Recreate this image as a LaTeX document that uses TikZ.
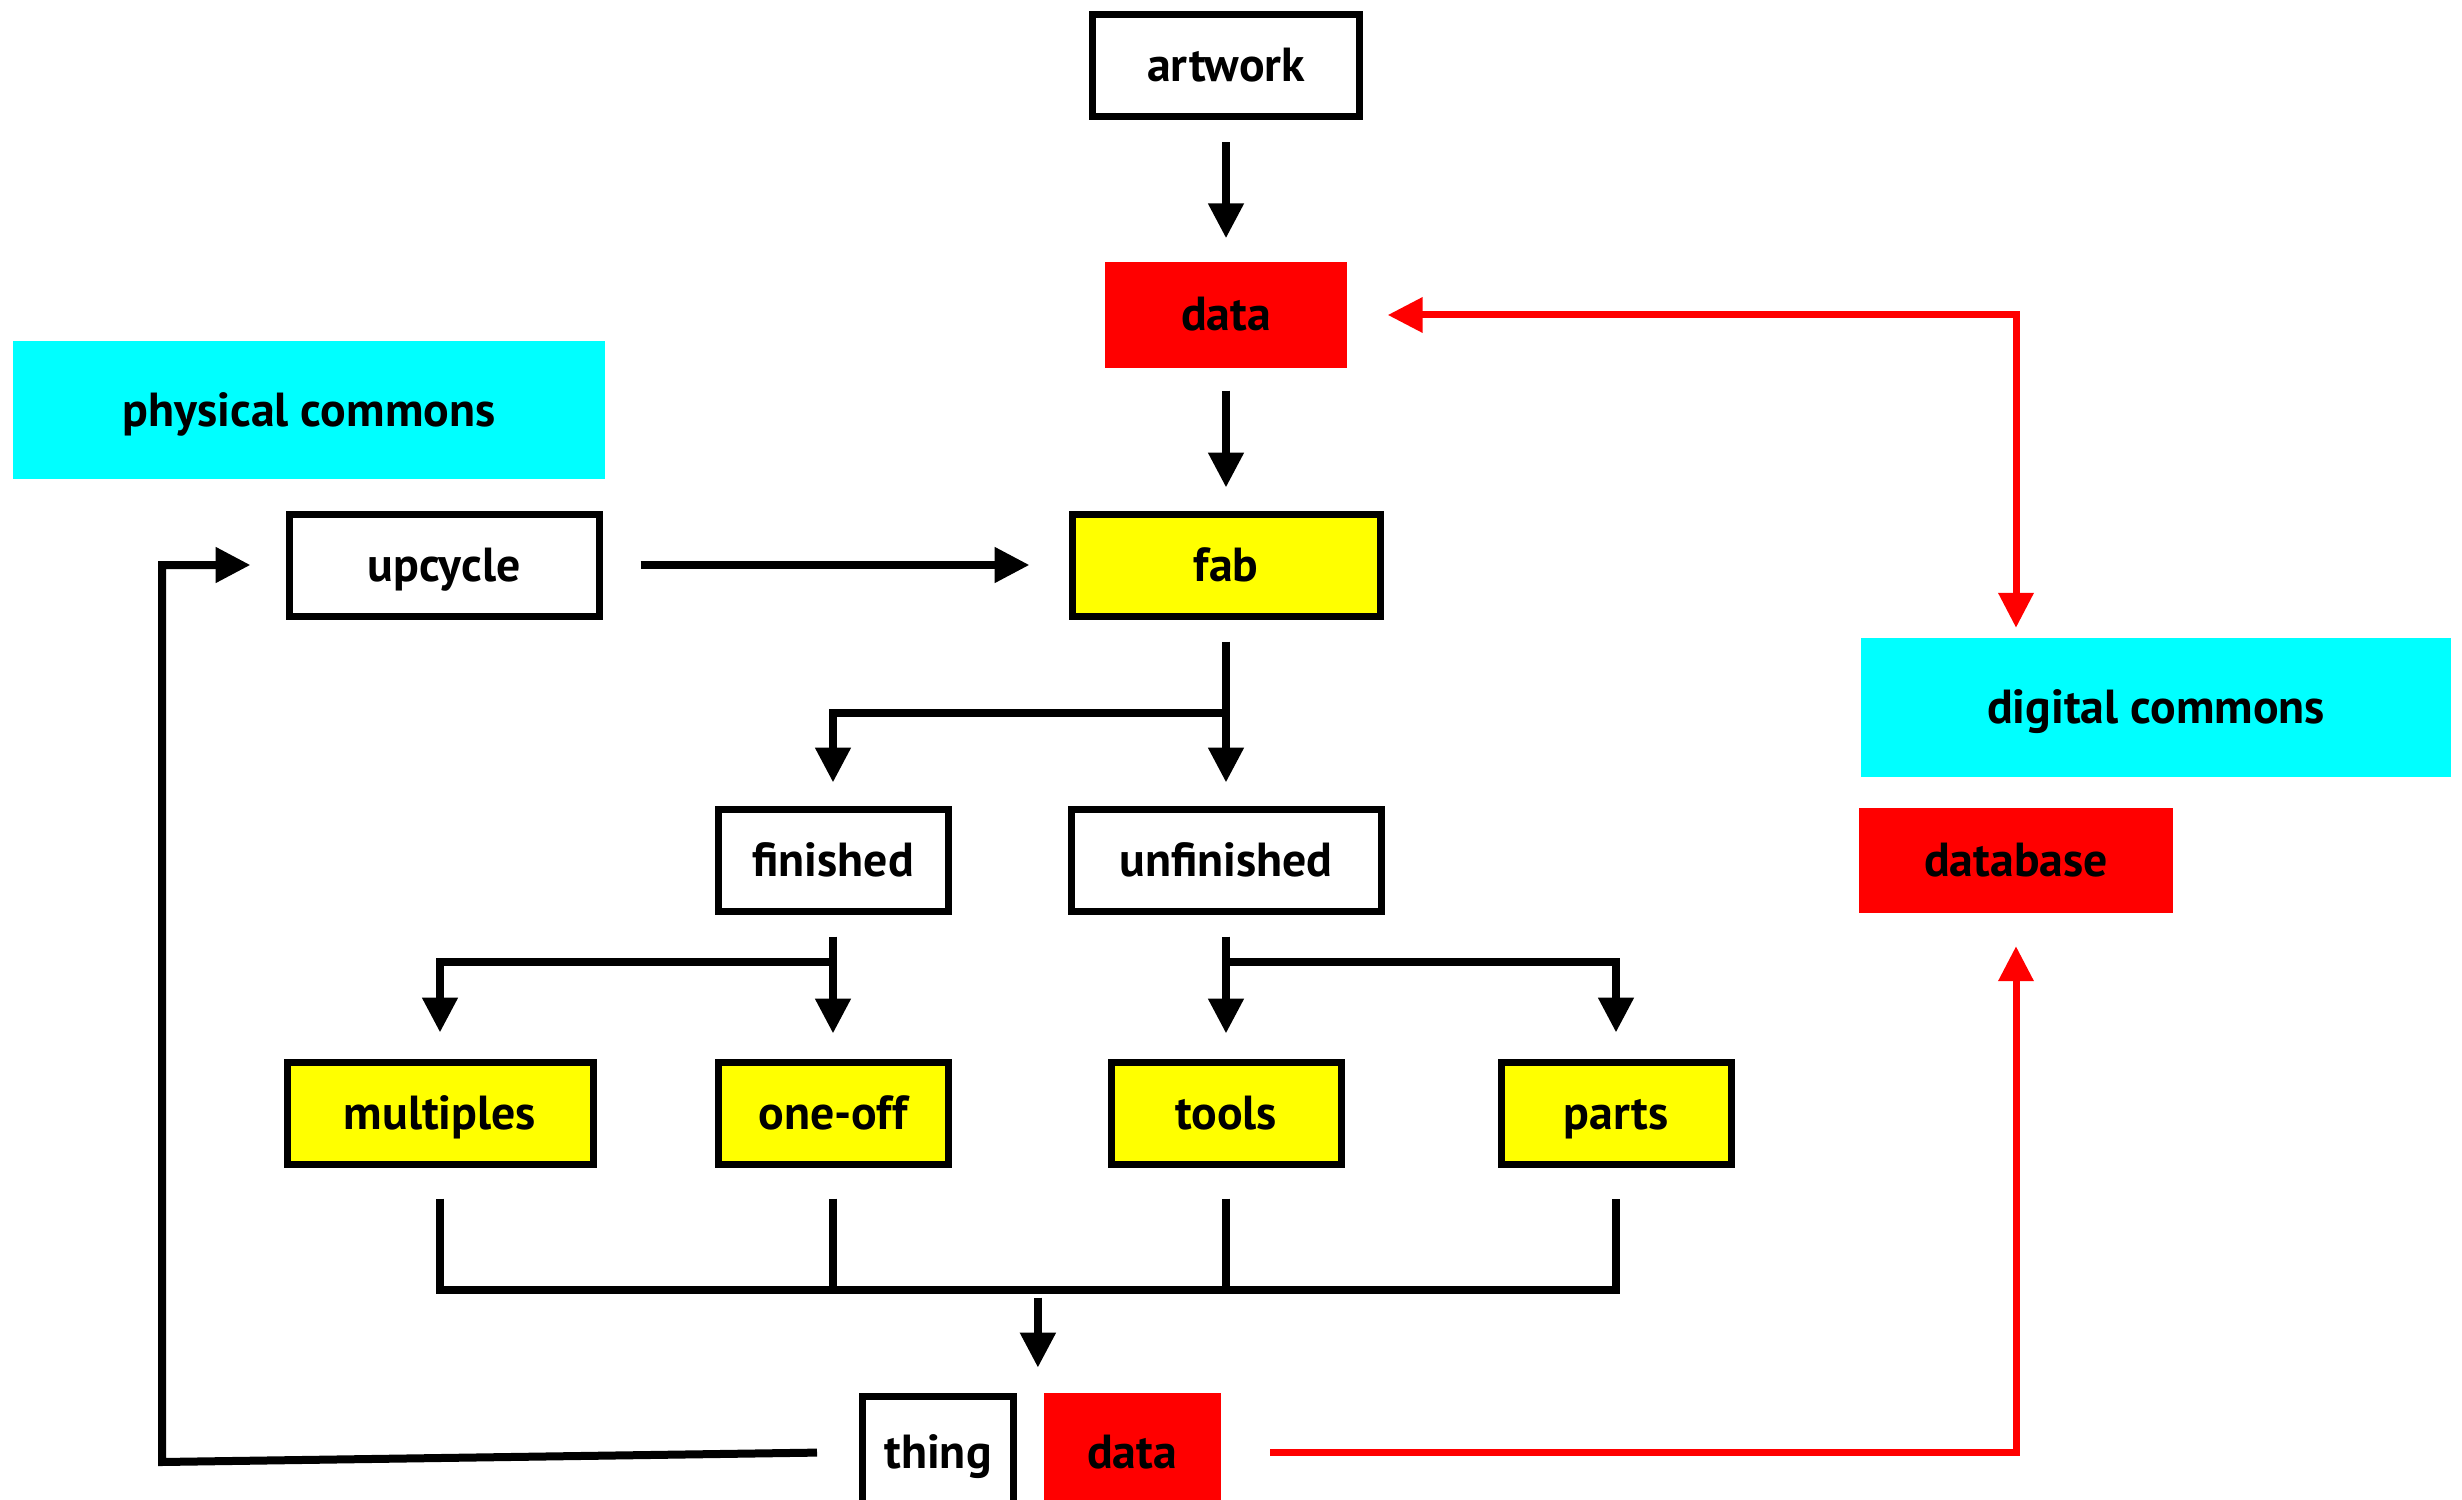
\documentclass[tikz,border=0pt]{standalone}
\usepackage{fontspec}
\setmainfont{PT Sans}
\usetikzlibrary{arrows.meta}
\usetikzlibrary{calc}
\definecolor{boxred}{RGB}{255,0,0}
\definecolor{boxyellow}{RGB}{255,255,0}
\definecolor{boxcyan}{RGB}{0,255,255}
\tikzset{
    label font/.style={font=\bfseries\fontsize{13.6}{16}\selectfont, text height=3.6mm, text depth=0.4mm},
    box/.style={draw, line width=0.7mm, fill=white, minimum height=10.2mm, inner sep=0pt, label font},
    ybox/.style={box, fill=boxyellow},
    rbox/.style={fill=boxred, minimum height=10.6mm, inner sep=0pt, label font},
    cbox/.style={fill=boxcyan, minimum height=13.8mm, inner sep=0pt, label font},
    flow/.style={line width=0.8mm, -{Triangle[length=3.5mm,width=3.4mm]}, shorten <=2.2mm, shorten >=2.3mm},
    wire/.style={line width=0.8mm},
    redflow/.style={flow, color=boxred, line width=0.7mm},
}

\begin{document}
\begin{tikzpicture}[x=0.1mm, y=-0.1mm]
    \useasboundingbox (0,0) rectangle (2462,1500);

    \node[box, minimum width=26.7mm] (artwork) at (1226,66) {artwork};
    \node[rbox, minimum width=24.2mm] (data1) at (1226,315) {data};
    \node[ybox, minimum width=30.8mm] (fab) at (1226,565) {fab};
    \node[cbox, minimum width=59.2mm] (physcom) at (309,410) {physical commons};
    \node[box, minimum width=31mm] (upcycle) at (444,565) {upcycle};
    \node[box, minimum width=23mm] (finished) at (833,860) {finished};
    \node[box, minimum width=31mm] (unfinished) at (1226,860) {unfinished};
    \node[ybox, minimum width=30.6mm] (multiples) at (440,1113) {multiples};
    \node[ybox, minimum width=23mm] (oneoff) at (833,1113) {one-off};
    \node[ybox, minimum width=23mm] (tools) at (1226,1113) {tools};
    \node[ybox, minimum width=23mm] (parts) at (1616,1113) {parts};
    \node[box, minimum width=15.1mm, minimum height=11.1mm] (thing) at (938,1452) {thing};
    \node[rbox, minimum width=17.7mm, minimum height=11.8mm] (data2) at (1132,1452) {data};
    \node[cbox, minimum width=59mm, minimum height=13.9mm] (digcom) at (2156,707) {digital commons};
    \node[rbox, minimum width=31.4mm, minimum height=10.5mm] (database) at (2016,860) {database};

    % main line
    \draw[flow] (artwork) -- (data1);
    \draw[flow] (data1) -- (fab);
    \draw[flow, shorten <=3.8mm, shorten >=3.9mm] (upcycle) -- (fab);

    % fab splits
    \coordinate (fabsplit) at ($(fab.south)!0.5!(unfinished.north)$);
    \draw[flow] (fab) -- (unfinished);
    \draw[flow, shorten <=0pt] (fabsplit) -| (finished);

    \coordinate (finsplit) at ([yshift=-4.7mm]finished.south);
    \draw[flow, shorten >=2.5mm] (finished) -- (oneoff);
    \draw[flow, shorten <=0pt, shorten >=2.6mm] (finsplit) -| (multiples);
    \draw[flow, shorten >=2.5mm] (unfinished) -- (tools);
    \draw[flow, shorten <=0pt, shorten >=2.6mm] (finsplit -| unfinished) -| (parts);

    % collect into thing
    \coordinate (bus) at ([yshift=-12.2mm]multiples.south);
    \draw[wire, shorten <=3.1mm, shorten >=3.1mm] (multiples) -- (multiples |- bus) -- (parts |- bus) -- (parts);
    \foreach \n in {oneoff,tools}
        \draw[wire, shorten <=3.1mm] (\n) -- (\n |- bus);
    \coordinate (drop) at ($(thing.north east)!0.5!(data2.north west)$);
    \draw[flow, shorten <=0.8mm, shorten >=2.5mm] ([xshift=0.8mm]drop |- bus) -- ([xshift=0.8mm]drop);

    % back to upcycle
    \draw[flow, shorten <=4.2mm, shorten >=3.5mm] (thing.west) -- ++(-697,10) |- (upcycle);

    % data links
    \draw[redflow, shorten <=4.9mm, shorten >=3.3mm] (data2) -| (database);
    \draw[redflow, {Triangle[length=3.5mm,width=3.4mm]}-{Triangle[length=3.5mm,width=3.4mm]}, shorten <=4mm, shorten >=0.9mm] (data1) -| (database |- digcom.north);
\end{tikzpicture}
\end{document}
